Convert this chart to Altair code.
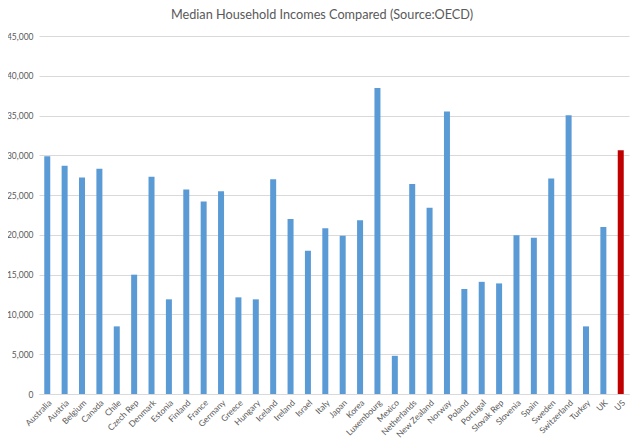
import altair as alt
import pandas as pd

countries = ["Australia", "Austria", "Belgium", "Canada", "Chile", "Czech Rep", "Denmark",
             "Estonia", "Finland", "France", "Germany", "Greece", "Hungary", "Iceland",
             "Ireland", "Israel", "Italy", "Japan", "Korea", "Luxembourg", "Mexico",
             "Netherlands", "New Zealand", "Norway", "Poland", "Portugal", "Slovak Rep",
             "Slovenia", "Spain", "Sweden", "Switzerland", "Turkey", "UK", "US"]
incomes = [29900, 28700, 27200, 28300, 8500, 15000, 27300,
           11900, 25700, 24200, 25500, 12150, 11900, 27000,
           22000, 18000, 20850, 19900, 21850, 38450, 4800,
           26400, 23400, 35500, 13200, 14100, 13900,
           19950, 19650, 27100, 35050, 8500, 21000, 30650]
highlight = "US"

df = pd.DataFrame({"country": countries, "income": incomes})

font = "Lato"
chart = alt.Chart(df).mark_bar(size=6).encode(
    x=alt.X("country:N", sort=countries, title=None,
            scale=alt.Scale(paddingInner=0.65, paddingOuter=0.3),
            axis=alt.Axis(labelAngle=-45, ticks=False, domainColor="#D9D9D9",
                          labelColor="#595959", labelFontSize=8.5, labelFont=font,
                          labelPadding=4)),
    y=alt.Y("income:Q", title=None,
            scale=alt.Scale(domain=[0, 45000], nice=False),
            axis=alt.Axis(values=list(range(0, 45001, 5000)), format=",.0f", ticks=False,
                          domain=False, gridColor="#D9D9D9", labelColor="#595959",
                          labelFontSize=8.5, labelFont=font, labelPadding=6)),
    color=alt.condition(alt.datum.country == highlight, alt.value("#C00000"), alt.value("#5B9BD5")),
).properties(
    width=590, height=358,
    title=alt.TitleParams("Median Household Incomes Compared (Source:OECD)", fontSize=12.7,
                          font=font, fontWeight="normal", color="#595959", offset=10,
                          dx=-12),
    autosize=alt.AutoSizeParams(type="none"),
    padding={"left": 31, "top": 28, "right": 3, "bottom": 52},
).configure_view(stroke=None)

chart.save("out.html", embed_options={"renderer": "svg", "actions": False})
